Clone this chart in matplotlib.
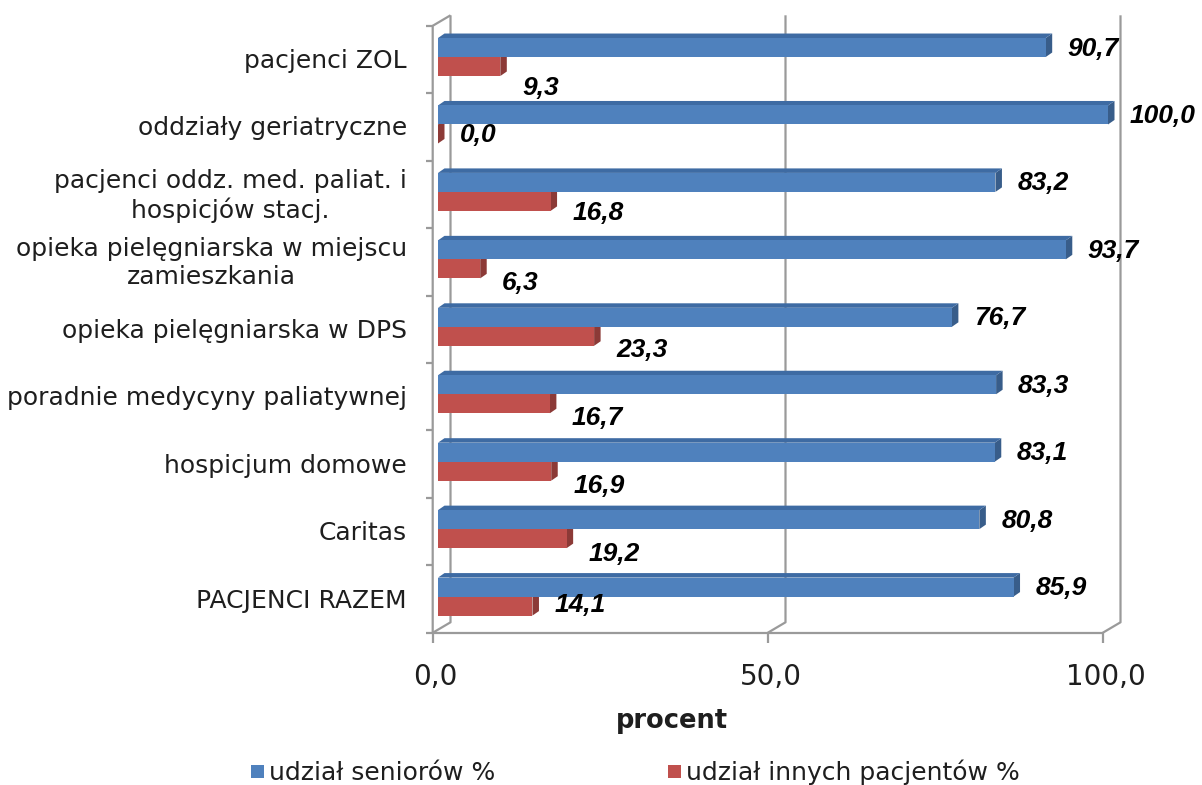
import matplotlib
matplotlib.use("Agg")
import matplotlib.pyplot as plt
from matplotlib.patches import Polygon, Rectangle
from matplotlib.lines import Line2D

# ---- data -------------------------------------------------------------
categories = [
    "pacjenci ZOL",
    "oddziały geriatryczne",
    "pacjenci oddz. med. paliat. i\nhospicjów stacj.",
    "opieka pielęgniarska w miejscu\nzamieszkania",
    "opieka pielęgniarska w DPS",
    "poradnie medycyny paliatywnej",
    "hospicjum domowe",
    "Caritas",
    "PACJENCI RAZEM",
]
seniors = [90.7, 100.0, 83.2, 93.7, 76.7, 83.3, 83.1, 80.8, 85.9]
others = [9.3, 0.0, 16.8, 6.3, 23.3, 16.7, 16.9, 19.2, 14.1]
x_ticks = [0, 50, 100]
series_names = ["udział seniorów %", "udział innych pacjentów %"]
axis_title = "procent"

# ---- styling ----------------------------------------------------------
BLUE = "#4F81BD"
BLUE_TOP = "#3E6BA3"
BLUE_SIDE = "#385D8A"
RED = "#C0504D"
RED_TOP = "#A5413E"
RED_SIDE = "#8C3A37"
GRID = "#9A9A9A"
TXT = "#1E1E1E"

# vertical nudges (pixels, downward) for the red value labels
red_label_drop = [21, 1, 12, 14, 14, 14, 15, 15, -1]

W, H = 1202, 785
fig = plt.figure(figsize=(W / 100, H / 100), dpi=100)

# plot area (bar plane) in pixels
L, R, T, B = 438, 1108, 23.3, 630.3
ax = fig.add_axes([L / W, 1 - B / H, (R - L) / W, (B - T) / H])
n = len(categories)
ax.set_xlim(0, 100)
ax.set_ylim(n - 0.5, -0.5)
ax.axis("off")

ux = 100 / (R - L)      # data units per pixel (x)
uy = n / (B - T)        # data units per pixel (y, downward)


def shift(x, y, dx, dy):
    """Move a data point by dx pixels right and dy pixels down."""
    return (x + dx * ux, y + dy * uy)


def line(pts, **kw):
    xs, ys = zip(*pts)
    ax.add_line(Line2D(xs, ys, color=GRID, lw=1.6, clip_on=False,
                       solid_capstyle="butt", **kw))


# ---- walls / floor ------------------------------------------------------
FRONT = (-5.3, 2.5)     # front plane offset from bar plane (px)
BACK = (12.5, -8.0)     # back wall offset from bar plane (px)
y_top, y_bot = -0.5, n - 0.5

for t in x_ticks:
    # back wall gridline and floor diagonal
    line([shift(t, y_top, *BACK), shift(t, y_bot, *BACK),
          shift(t, y_bot, *FRONT)], zorder=0.5)
    # tick below the floor
    line([shift(t, y_bot, *FRONT), shift(t, y_bot, FRONT[0], FRONT[1] + 10)],
         zorder=0.5)
# left wall front edge with top diagonal
line([shift(0, y_top, *BACK), shift(0, y_top, *FRONT),
      shift(0, y_bot, *FRONT)], zorder=0.5)
# floor front edge
line([shift(0, y_bot, *FRONT), shift(100, y_bot, *FRONT)], zorder=0.5)
# category ticks on the left axis
for k in range(n + 1):
    yk = k - 0.5
    line([shift(0, yk, FRONT[0], FRONT[1]), shift(0, yk, FRONT[0] - 7, FRONT[1])],
         zorder=0.5)

# ---- 3D bars ------------------------------------------------------------
bh = 19 * uy            # bar thickness
DX, DY = 6.5, 4.5       # bar depth (px right, px up)


def bar3d(v, yc, top, side, z):
    y0, y1 = yc - bh / 2, yc + bh / 2
    ax.add_patch(Polygon([(v, y0), (v, y1), shift(v, y1, DX, -DY),
                          shift(v, y0, DX, -DY)], closed=True,
                         facecolor=side, edgecolor="none", zorder=z,
                         clip_on=False))
    ax.add_patch(Polygon([(0, y0), (v, y0), shift(v, y0, DX, -DY),
                          shift(0, y0, DX, -DY)], closed=True,
                         facecolor=top, edgecolor="none", zorder=z,
                         clip_on=False))


pos = list(range(n))
red_centers = [p + bh / 2 for p in pos]
blue_centers = [p - bh / 2 for p in pos]
for i in pos:
    bar3d(others[i], red_centers[i], RED_TOP, RED_SIDE, 2)
ax.barh(red_centers, others, height=bh, color=RED, zorder=2.5, clip_on=False)
for i in pos:
    bar3d(seniors[i], blue_centers[i], BLUE_TOP, BLUE_SIDE, 3)
ax.barh(blue_centers, seniors, height=bh, color=BLUE, zorder=3.5, clip_on=False)


def fmt(v):
    return f"{v:.1f}".replace(".", ",")


val_font = dict(family="Liberation Sans", fontsize=19, fontweight="bold",
                fontstyle="italic", color="black")
for i in pos:
    ax.annotate(fmt(seniors[i]), xy=(seniors[i], blue_centers[i]),
                xytext=(22, -1), textcoords="offset pixels",
                ha="left", va="center", zorder=6, **val_font)
    ax.annotate(fmt(others[i]), xy=(others[i], red_centers[i]),
                xytext=(22, -red_label_drop[i]), textcoords="offset pixels",
                ha="left", va="center", zorder=6, **val_font)

# ---- category labels ----------------------------------------------------
for i, cat in enumerate(categories):
    ax.text(-31 * ux, i + 4 * uy, cat, ha="right", va="center",
            multialignment="center", family="DejaVu Sans", fontsize=18,
            color=TXT)


# ---- x tick labels and title -------------------------------------------
def ypx(p):
    return -0.5 + (p - T) * uy


def xpx(p):
    return (p - L) * ux


for t in x_ticks:
    ax.text(t + FRONT[0] * ux + 3 * ux, ypx(677), fmt(t), ha="center",
            va="center", family="DejaVu Sans", fontsize=20, color=TXT)
ax.text(xpx(672), ypx(728), axis_title, ha="center", va="baseline",
        family="DejaVu Sans", fontsize=18.5, fontweight="bold", color=TXT)


# ---- legend -------------------------------------------------------------
def fpx(x, y):
    return (x / W, 1 - y / H)


for (sx, col, label) in [(251, BLUE, series_names[0]),
                         (668, RED, series_names[1])]:
    fig.add_artist(Rectangle(fpx(sx, 778), 13 / W, 13 / H, facecolor=col,
                             edgecolor="none", transform=fig.transFigure))
    fig.text(*fpx(sx + 18, 780), label, ha="left", va="baseline",
             family="DejaVu Sans", fontsize=18, color=TXT)

fig.savefig("out.png", dpi=100, facecolor="white")
